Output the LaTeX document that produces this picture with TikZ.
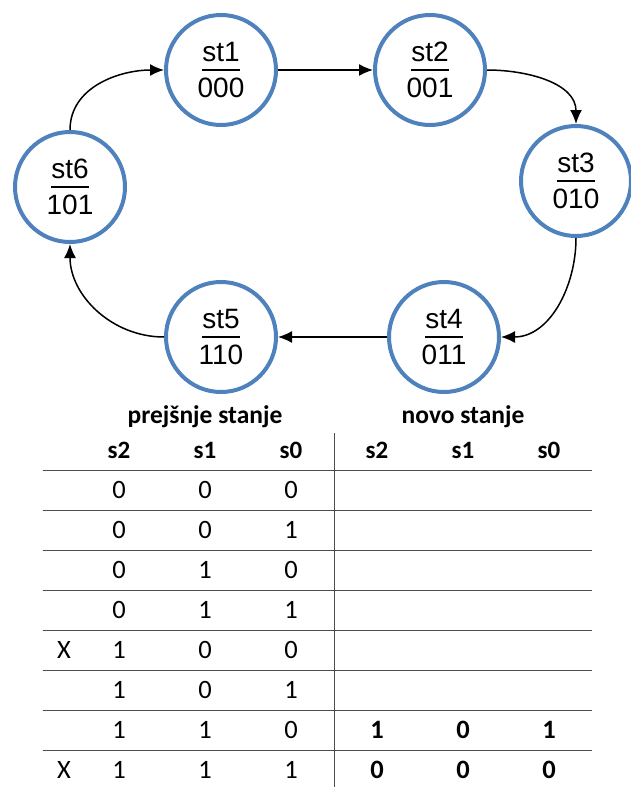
\documentclass[tikz,border=0pt]{standalone}
\usepackage{fontspec}
\setmainfont{Carlito}
\newfontfamily\arialfont{Liberation Sans}
\usetikzlibrary{arrows.meta,positioning,matrix}
\definecolor{stblue}{RGB}{79,129,189}
\newcommand{\stlbl}[2]{\vbox{\offinterlineskip\halign{\hfil##\hfil\cr #1\cr\noalign{\kern7pt}\rule{38pt}{2.5pt}\cr\noalign{\kern7pt}#2\cr}}}

\begin{document}
\begin{tikzpicture}[x=1pt, y=1pt,
  stnode/.style={circle, draw=stblue, line width=4pt, minimum size=110pt, inner sep=0pt, font=\arialfont\fontsize{28}{34}\selectfont},
  hdr/.style={inner sep=0pt, font=\bfseries\fontsize{25.5}{30}\selectfont},
  rowline/.style={draw=black!70, line width=0.8pt},
  every edge/.style={draw, line width=1.5pt, -{Latex[length=14pt,width=12pt]}}
]
  \useasboundingbox (0,0) rectangle (630,-787);

  \node[stnode] (st1) at (221,-70) {\stlbl{st1}{000}};
  \node[stnode] (st2) at (430,-70) {\stlbl{st2}{001}};
  \node[stnode] (st3) at (576,-181) {\stlbl{st3}{010}};
  \node[stnode] (st4) at (444,-337) {\stlbl{st4}{011}};
  \node[stnode] (st5) at (221,-337) {\stlbl{st5}{110}};
  \node[stnode] (st6) at (70,-187) {\stlbl{st6}{101}};

  \path
    (st1) edge (st2)
    (st2.east) edge[out=0, in=90] (st3.north)
    (st3.south) edge[out=-90, in=0] (st4.east)
    (st4) edge (st5)
    (st5.west) edge[out=180, in=-90] (st6.south)
    (st6.north) edge[out=90, in=180] (st1.west);

  \matrix (m) [matrix of nodes, nodes in empty cells, column sep=0pt, row sep=0pt,
    nodes={anchor=center, minimum width=86pt, minimum height=40pt, inner sep=0pt, font=\fontsize{26.5}{31}\selectfont},
    row 1/.style={nodes={font=\bfseries\fontsize{25}{30}\selectfont}},
    column 1/.style={nodes={minimum width=24pt}}] at (322,-610) {
     & s2 & s1 & s0 & s2 & s1 & s0 \\
     & 0 & 0 & 0 & & & \\
     & 0 & 0 & 1 & & & \\
     & 0 & 1 & 0 & & & \\
     & 0 & 1 & 1 & & & \\
    X & 1 & 0 & 0 & & & \\
     & 1 & 0 & 1 & & & \\
     & 1 & 1 & 0 & \textbf{1} & \textbf{0} & \textbf{1} \\
    X & 1 & 1 & 1 & \textbf{0} & \textbf{0} & \textbf{0} \\
  };

  \node[hdr, above=2pt of m-1-3] (prev) {prejšnje stanje};
  \node[hdr, above=2pt of m-1-6] (next) {novo stanje};

  \foreach \i in {1,...,8}
    \draw[rowline] ([xshift=-9pt]m-\i-1.south west) -- (m-\i-7.south east);
  \draw[rowline] ([yshift=-3pt]m-1-4.north east) -- (m-9-4.south east);
\end{tikzpicture}
\end{document}
